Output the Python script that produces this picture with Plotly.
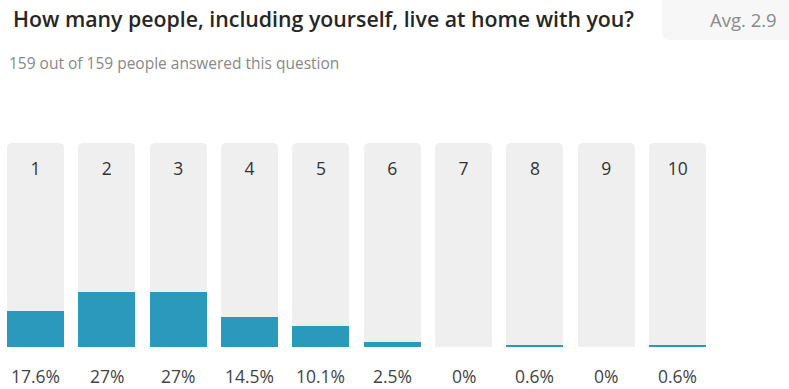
import plotly.graph_objects as go

# Survey answers: household size and share of respondents
options = ["1", "2", "3", "4", "5", "6", "7", "8", "9", "10"]
shares = [17.6, 27, 27, 14.5, 10.1, 2.5, 0, 0.6, 0, 0.6]
share_labels = ["17.6%", "27%", "27%", "14.5%", "10.1%", "2.5%", "0%", "0.6%", "0%", "0.6%"]

title_text = "How many people, including yourself, live at home with you?"
subtitle_text = "159 out of 159 people answered this question"
avg_text = "Avg. 2.9"

W, H = 789, 389
M_T, M_B = 143, 42
FONT = "Open Sans"

xs = list(range(1, len(options) + 1))
px_per_unit = 71.35
x0 = 1 - 35.5 / px_per_unit
x1 = x0 + W / px_per_unit

fig = go.Figure()

# track behind each option (full 100%)
fig.add_trace(go.Bar(
    x=xs, y=[100] * len(xs), width=0.8,
    marker=dict(color="#efefef", cornerradius=5, line=dict(width=0)),
    hoverinfo="skip", showlegend=False,
))
# share bar
fig.add_trace(go.Bar(
    x=xs, y=shares, width=0.8,
    marker=dict(color="#2a99bc", line=dict(width=0)),
    hoverinfo="skip", showlegend=False,
))

# option numbers near the top of each track
fig.add_trace(go.Scatter(
    x=xs, y=[86.3] * len(xs), mode="text", text=options,
    textfont=dict(family=FONT, size=17.5, color="#333333"),
    hoverinfo="skip", showlegend=False, cliponaxis=False,
))

plot_h = H - M_T - M_B


def py(pixel_y):
    return (H - M_B - pixel_y) / plot_h


def px(pixel_x):
    return pixel_x / W


def rounded_box(xa, ya, xb, yb, r):
    """SVG path (paper coords) of a box given in pixels, with rounded corners."""
    pts = [
        f"M {px(xa + r)},{py(ya)}",
        f"L {px(xb - r)},{py(ya)}",
        f"Q {px(xb)},{py(ya)} {px(xb)},{py(ya + r)}",
        f"L {px(xb)},{py(yb - r)}",
        f"Q {px(xb)},{py(yb)} {px(xb - r)},{py(yb)}",
        f"L {px(xa + r)},{py(yb)}",
        f"Q {px(xa)},{py(yb)} {px(xa)},{py(yb - r)}",
        f"L {px(xa)},{py(ya + r)}",
        f"Q {px(xa)},{py(ya)} {px(xa + r)},{py(ya)}",
        "Z",
    ]
    return " ".join(pts)


# percentage labels under each track
pct_annotations = [
    dict(text=lbl, x=xv, xref="x", y=py(376), yref="paper",
         xanchor="center", yanchor="middle", showarrow=False,
         font=dict(family=FONT, size=17.5, color="#444444"))
    for xv, lbl in zip(xs, share_labels)
]

fig.update_layout(
    width=W, height=H,
    margin=dict(l=0, r=0, t=M_T, b=M_B),
    paper_bgcolor="white", plot_bgcolor="white",
    barmode="overlay", bargap=0,
    xaxis=dict(range=[x0, x1], visible=False, fixedrange=True),
    yaxis=dict(range=[0, 100], visible=False, fixedrange=True),
    font=dict(family=FONT),
    shapes=[dict(
        type="path", xref="paper", yref="paper",
        path=rounded_box(662, -10, 800, 40, 7),
        fillcolor="#f7f7f7", line=dict(width=0), layer="below",
    )],
    annotations=[
        dict(text=title_text, xref="paper", yref="paper", x=11 / W, y=py(19),
             xanchor="left", yanchor="middle", showarrow=False,
             font=dict(family=FONT, size=21.3, weight=600, color="#262626")),
        dict(text=subtitle_text, xref="paper", yref="paper", x=7 / W, y=py(63),
             xanchor="left", yanchor="middle", showarrow=False,
             font=dict(family=FONT, size=15.5, color="#888888")),
        dict(text=avg_text, xref="paper", yref="paper", x=779 / W, y=py(20),
             xanchor="right", yanchor="middle", showarrow=False,
             font=dict(family=FONT, size=18.5, color="#8a8a8a")),
    ] + pct_annotations,
)

fig.write_html("out.html")
